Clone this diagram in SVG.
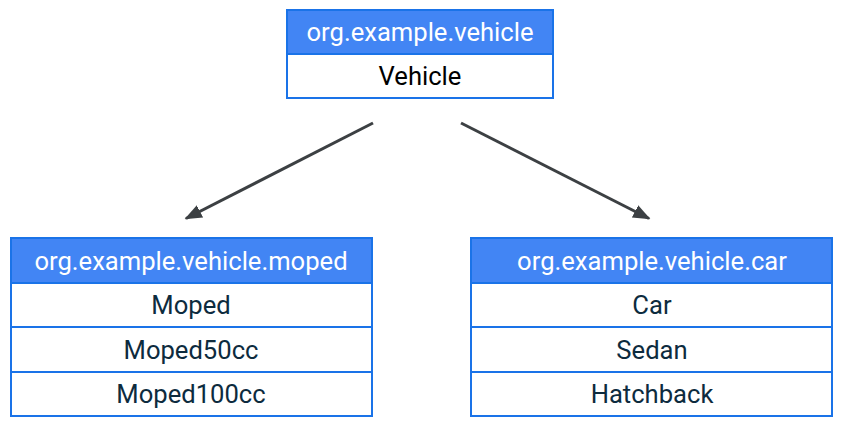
<svg xmlns="http://www.w3.org/2000/svg" width="845" height="426" viewBox="0 0 845 426">
<defs>
<style>
.hdr{fill:#4285f4;stroke:#1a73e8;stroke-width:2}
.row{fill:#ffffff;stroke:#1a73e8;stroke-width:2}
.ht{font-family:Roboto,"Liberation Sans",sans-serif;font-size:25.6px;fill:#ffffff;text-anchor:middle}
.rt{font-family:Roboto,"Liberation Sans",sans-serif;font-size:25.6px;fill:#0d2b3e;text-anchor:middle}
.edge{stroke:#3c4043;stroke-width:3;fill:none}
</style>
<marker id="arr" viewBox="0 0 10 10" refX="9" refY="5" markerWidth="5.8" markerHeight="5.8" markerUnits="strokeWidth" orient="auto">
<path d="M0,1 L10,5 L0,9 z" fill="#3c4043"/>
</marker>
</defs>
<rect width="845" height="426" fill="#ffffff"/>
<g id="connectors">
<line class="edge" x1="373" y1="123" x2="186" y2="218.5" marker-end="url(#arr)"/>
<line class="edge" x1="461" y1="123" x2="649" y2="218.5" marker-end="url(#arr)"/>
</g>
<g id="vehicle">
<rect class="hdr" x="287" y="10" width="266" height="44"/>
<rect class="row" x="287" y="54" width="266" height="44"/>
<text class="ht" x="420" y="41">org.example.vehicle</text>
<text class="rt" x="420" y="85" style="fill:#000">Vehicle</text>
</g>
<g id="moped">
<rect class="hdr" x="11" y="238" width="361" height="45"/>
<rect class="row" x="11" y="283" width="361" height="44"/>
<rect class="row" x="11" y="327" width="361" height="45"/>
<rect class="row" x="11" y="372" width="361" height="44"/>
<text class="ht" x="191" y="270">org.example.vehicle.moped</text>
<text class="rt" x="191" y="314">Moped</text>
<text class="rt" x="191" y="359">Moped50cc</text>
<text class="rt" x="191" y="403">Moped100cc</text>
</g>
<g id="car">
<rect class="hdr" x="471" y="238" width="361" height="45"/>
<rect class="row" x="471" y="283" width="361" height="44"/>
<rect class="row" x="471" y="327" width="361" height="45"/>
<rect class="row" x="471" y="372" width="361" height="44"/>
<text class="ht" x="652" y="270">org.example.vehicle.car</text>
<text class="rt" x="652" y="314">Car</text>
<text class="rt" x="652" y="359">Sedan</text>
<text class="rt" x="652" y="403">Hatchback</text>
</g>
</svg>
